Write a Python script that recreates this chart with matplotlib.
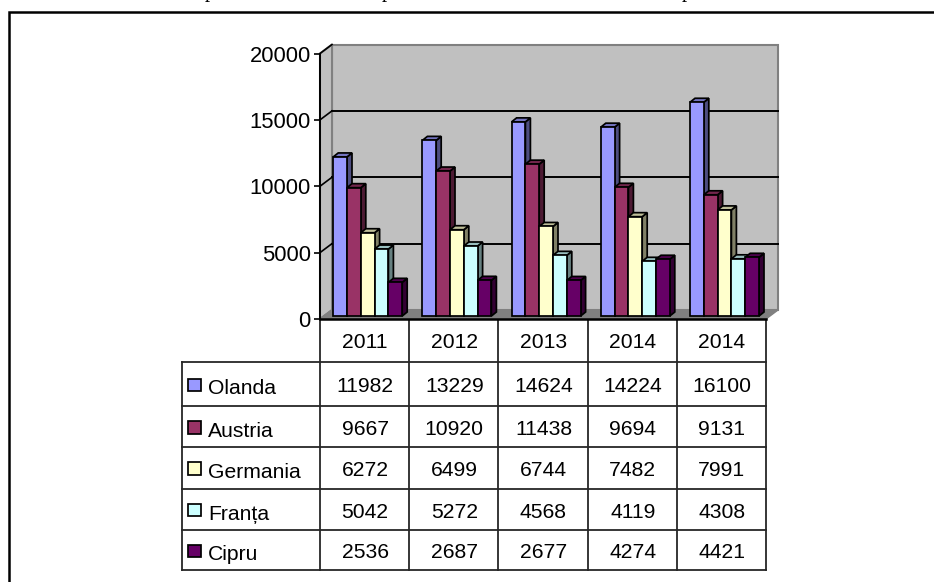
import matplotlib
matplotlib.use("Agg")
import matplotlib.pyplot as plt
from matplotlib.patches import Polygon, Rectangle
from matplotlib.colors import to_rgb

years = ["2011", "2012", "2013", "2014", "2014"]
series = ["Olanda", "Austria", "Germania", "Franța", "Cipru"]
olanda = [11982, 13229, 14624, 14224, 16100]
austria = [9667, 10920, 11438, 9694, 9131]
germania = [6272, 6499, 6744, 7482, 7991]
franta = [5042, 5272, 4568, 4119, 4308]
cipru = [2536, 2687, 2677, 4274, 4421]
values = [olanda, austria, germania, franta, cipru]
colors = ["#9999FF", "#993366", "#FFFFCC", "#CCFFFF", "#660066"]
yticks = [0, 5000, 10000, 15000, 20000]

W, H = 934, 582
plt.rcParams["font.family"] = ["Liberation Sans", "DejaVu Sans"]
fig = plt.figure(figsize=(W / 100, H / 100), dpi=100, facecolor="white")

# overlay in pixel coordinates: page frame and table
pg = fig.add_axes([0, 0, 1, 1], zorder=1)
pg.set_xlim(0, W); pg.set_ylim(H, 0); pg.axis("off")

X0, X1, Y0, Y1 = 320, 766, 319, 53.5
ax = fig.add_axes([X0 / W, 1 - Y0 / H, (X1 - X0) / W, (Y0 - Y1) / H], zorder=2)
ax.set_xlim(0, 5); ax.set_ylim(0, 20000)
ax.patch.set_alpha(0)
for s in ["top", "right"]:
    ax.spines[s].set_visible(False)
ax.spines["left"].set_linewidth(1.4)
ax.spines["bottom"].set_linewidth(1.8)
ax.set_xticks([])
ax.set_yticks(yticks)
ax.tick_params(axis="y", length=4.5, width=1.2, labelsize=15.8, pad=2.2)

px = 5 / (X1 - X0)
py = 20000 / (Y0 - Y1)
wx, wy = 12 * px, 9 * py   # wall depth
dx, dy = 5 * px, 4 * py    # bar depth
base = 3 * py
start, w = 13.2 * px, 13.8 * px
lw = 1.25

def poly(pts, fc, ec, z, l=lw):
    ax.add_patch(Polygon(pts, closed=True, fc=fc, ec=ec, lw=l, zorder=z,
                         clip_on=False, joinstyle="miter"))

wall = "#C0C0C0"
edge = "#808080"
poly([(wx, wy), (5 + wx, wy), (5 + wx, 20000 + wy), (wx, 20000 + wy)], wall, edge, 1, 1.5)
poly([(0, 0), (wx, wy), (wx, 20000 + wy), (0, 20000)], wall, edge, 1, 1.5)
poly([(0, 0), (5, 0), (5 + wx, wy), (wx, wy)], edge, edge, 1, 1.0)
for t in yticks[1:-1]:
    ax.plot([wx, 5 + wx], [t + wy, t + wy], color="black", lw=1.4, zorder=2, clip_on=False)
for t in yticks:
    ax.plot([0, wx], [t, t + wy], color="black" if t else "#808080", lw=1.2, zorder=2.5, clip_on=False)

def shade(c, f):
    return tuple(v * f for v in to_rgb(c))

for i in range(len(years)):
    for j, (vals, c) in enumerate(zip(values, colors)):
        x = i + start + j * w
        top = base + vals[i]
        z = 3 + j
        ax.bar(x, vals[i], w, bottom=base, align="edge", color=c, edgecolor="black",
               linewidth=lw, zorder=z + 0.5, clip_on=False)
        poly([(x + w, base), (x + w + dx, base + dy), (x + w + dx, top + dy), (x + w, top)],
             shade(c, 0.5), "black", z)
        poly([(x, top), (x + dx, top + dy), (x + w + dx, top + dy), (x + w, top)],
             shade(c, 0.75), "black", z)

# page frame
pg.plot([9, 9, W], [H, 12, 12], color="black", lw=1.8, solid_joinstyle="miter")
for xp in [210, 387, 687]:
    pg.text(xp, -3, "p", family="Liberation Serif", fontsize=15, ha="center", va="baseline", clip_on=True)

# table
TL, TR = 182, 766
cols = [X0 + k * (X1 - X0) / 5 for k in range(6)]
rows = [319, 362, 406, 447, 488.5, 530, 570]
line = "#262626"
for xc in cols:
    pg.plot([xc, xc], [rows[0], rows[-1]], color=line, lw=1.3)
pg.plot([TL, TL], [rows[1], rows[-1]], color=line, lw=1.3)
for r in rows[1:]:
    pg.plot([TL, TR], [r, r], color=line, lw=1.3)

FS = 15.2
for i, y in enumerate(years):
    pg.text((cols[i] + cols[i + 1]) / 2 + 0.5, 342, y, ha="center", va="center", fontsize=FS)
for j, (name, vals, c) in enumerate(zip(series, values, colors)):
    yc = (rows[j + 1] + rows[j + 2]) / 2
    pg.add_patch(Rectangle((188, yc + 0.5 - 6), 12.5, 12.5, fc=c, ec="black", lw=1.25))
    pg.text(208, yc + 3, name, ha="left", va="center_baseline", fontsize=FS)
    for i, v in enumerate(vals):
        pg.text((cols[i] + cols[i + 1]) / 2 + 0.5, yc + 1, str(v), ha="center",
                va="center_baseline", fontsize=FS)

fig.savefig("out.png", dpi=100)
